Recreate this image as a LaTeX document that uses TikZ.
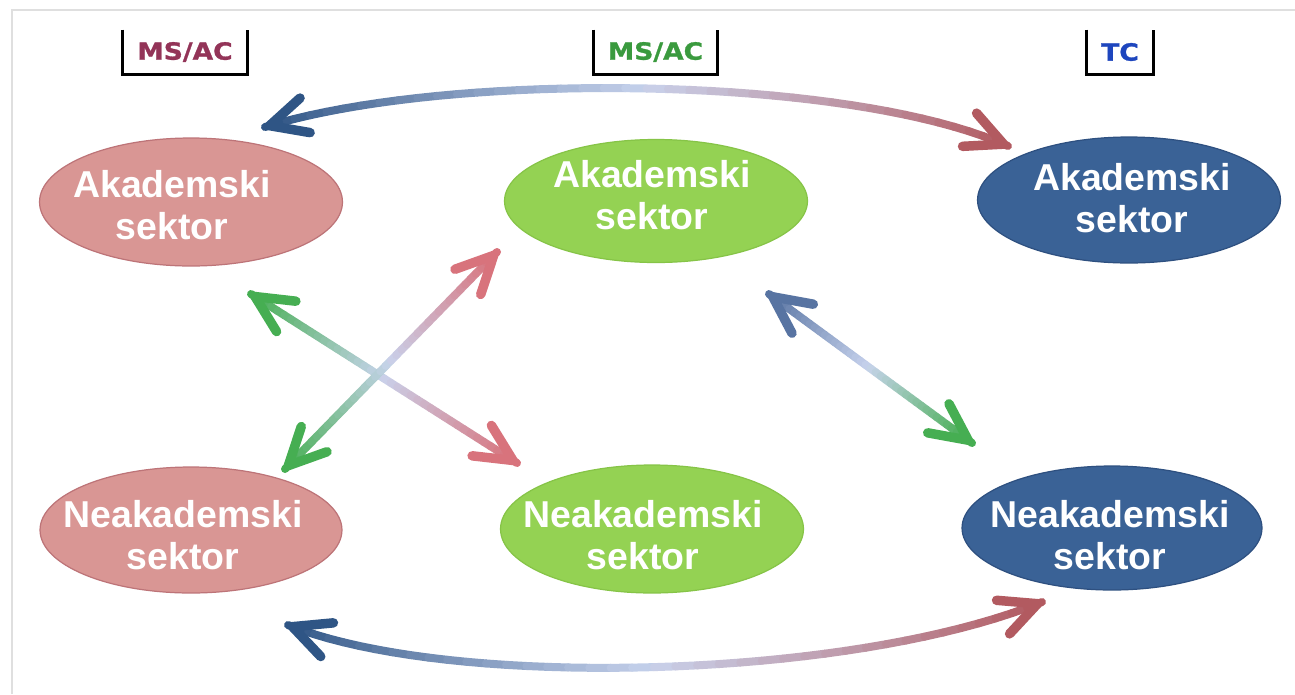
\documentclass[tikz,border=0pt]{standalone}
\usepackage{fontspec}
\setmainfont{Liberation Sans}
\newfontfamily\lblfont[FakeStretch=1.12,FakeBold=1.2]{DejaVu Sans}
\usetikzlibrary{arrows.meta,shapes.geometric}
\definecolor{pinkF}{HTML}{D99694}
\definecolor{pinkD}{HTML}{BD7478}
\definecolor{greenF}{HTML}{94D253}
\definecolor{greenD}{HTML}{86C447}
\definecolor{blueF}{HTML}{3A6296}
\definecolor{blueD}{HTML}{2E5080}
\definecolor{arBlue}{HTML}{2F5585}
\definecolor{arSlate}{HTML}{5874A2}
\definecolor{arRed}{HTML}{B25A60}
\definecolor{arPink}{HTML}{D8737C}
\definecolor{arGreen}{HTML}{46AE52}
\definecolor{arPale}{HTML}{C9D4EE}
\definecolor{lblMaroon}{HTML}{933458}
\definecolor{lblGreen}{HTML}{3A9A3E}
\definecolor{lblBlue}{HTML}{1E46BE}
\tikzset{
  sector/.style={ellipse, draw=#1D, fill=#1F, line width=0.7pt, inner sep=0pt},
  sectortext/.style={text=white, font=\fontsize{21.3}{24}\selectfont\bfseries, align=center, inner sep=0pt},
  tagbox/.style={inner sep=0pt, minimum height=0.88cm, font=\lblfont\fontsize{13.5}{15}\selectfont\bfseries},
  arrowline/.style={line width=0.16cm, line cap=round, line join=round},
  barb/.style={-{Straight Barb[length=0.74cm, width=0.72cm, line width=0.19cm, line cap=round, line join=round]}}
}
\newcommand\gradpath[5]{%
  \foreach \k in {0,...,40}{\path #2 coordinate[pos=\k/40] (#1-\k);}
  \foreach \k in {0,...,39}{%
    \pgfmathtruncatemacro\kk{\k+1}%
    \ifnum\k<20 \pgfmathtruncatemacro\pc{100-\k*5}\colorlet{segc}{#3!\pc!arPale}%
    \else \pgfmathtruncatemacro\pc{(\k-19)*5}\colorlet{segc}{#5!\pc!arPale}\fi
    \draw[arrowline, segc] (#1-\k) -- (#1-\kk);
  }
  \draw[arrowline, #3, barb] (#1-1) -- (#1-0);
  \draw[arrowline, #5, barb] (#1-39) -- (#1-40);
}
\begin{document}
\begin{tikzpicture}[x=0.02cm, y=-0.02cm]
\useasboundingbox (0,0) rectangle (1295,694);
\fill[white] (0,0) rectangle (1295,694);
\draw[gray!25, line width=1.2pt] (12,694) -- (12,10) -- (1295,10);

% ellipses
\node[sector=pink, minimum width=6.06cm, minimum height=2.56cm] (akL) at (191,202) {};
\node[sector=green, minimum width=6.06cm, minimum height=2.46cm] (akM) at (656,201) {};
\node[sector=blue, minimum width=6.06cm, minimum height=2.52cm] (akR) at (1129,200) {};
\node[sector=pink, minimum width=6.04cm, minimum height=2.52cm] (neL) at (191,530) {};
\node[sector=green, minimum width=6.06cm, minimum height=2.56cm] (neM) at (652,529) {};
\node[sector=blue, minimum width=6.0cm, minimum height=2.48cm] (neR) at (1112,528) {};

% ellipse texts
\node[sectortext] (akLt) at (172,205) {Akademski\\sektor};
\node[sectortext] (akMt) at (652,195) {Akademski\\sektor};
\node[sectortext] (akRt) at (1132,198) {Akademski\\sektor};
\node[sectortext] (neLt) at (183,535) {Neakademski\\sektor};
\node[sectortext] (neMt) at (643,535) {Neakademski\\sektor};
\node[sectortext] (neRt) at (1110,535) {Neakademski\\sektor};

% tag boxes
\node[tagbox, minimum width=2.48cm, text=lblMaroon] (t1) at (185,52) {MS/AC};
\node[tagbox, minimum width=2.46cm, text=lblGreen] (t2) at (655.5,52) {MS/AC};
\node[tagbox, minimum width=1.32cm, text=lblBlue] (t3) at (1120,52) {TC};
\foreach \t in {t1,t2,t3}{\draw[line width=1.7pt] (\t.north west) |- (\t.south east) -- (\t.north east);}

% arrow end points
\coordinate (topA) at (265,127);
\coordinate (topB) at (1008,146);
\coordinate (botA) at (288,625);
\coordinate (botB) at (1042,602);
\coordinate (x1A) at (251,294);
\coordinate (x1B) at (517,463);
\coordinate (x2A) at (285,469);
\coordinate (x2B) at (497,252);
\coordinate (dA) at (769,294);
\coordinate (dB) at (972,443);

\gradpath{top}{(topA) .. controls (450,70) and (850,75) .. (topB)}{arBlue}{arPale}{arRed}
\gradpath{bot}{(botA) .. controls (450,690) and (850,680) .. (botB)}{arBlue}{arPale}{arRed}
\gradpath{xa}{(x1A) -- (x1B)}{arGreen}{arPale}{arPink}
\gradpath{xb}{(x2A) -- (x2B)}{arGreen}{arPale}{arPink}
\gradpath{dg}{(dA) -- (dB)}{arSlate}{arPale}{arGreen}
\end{tikzpicture}
\end{document}
